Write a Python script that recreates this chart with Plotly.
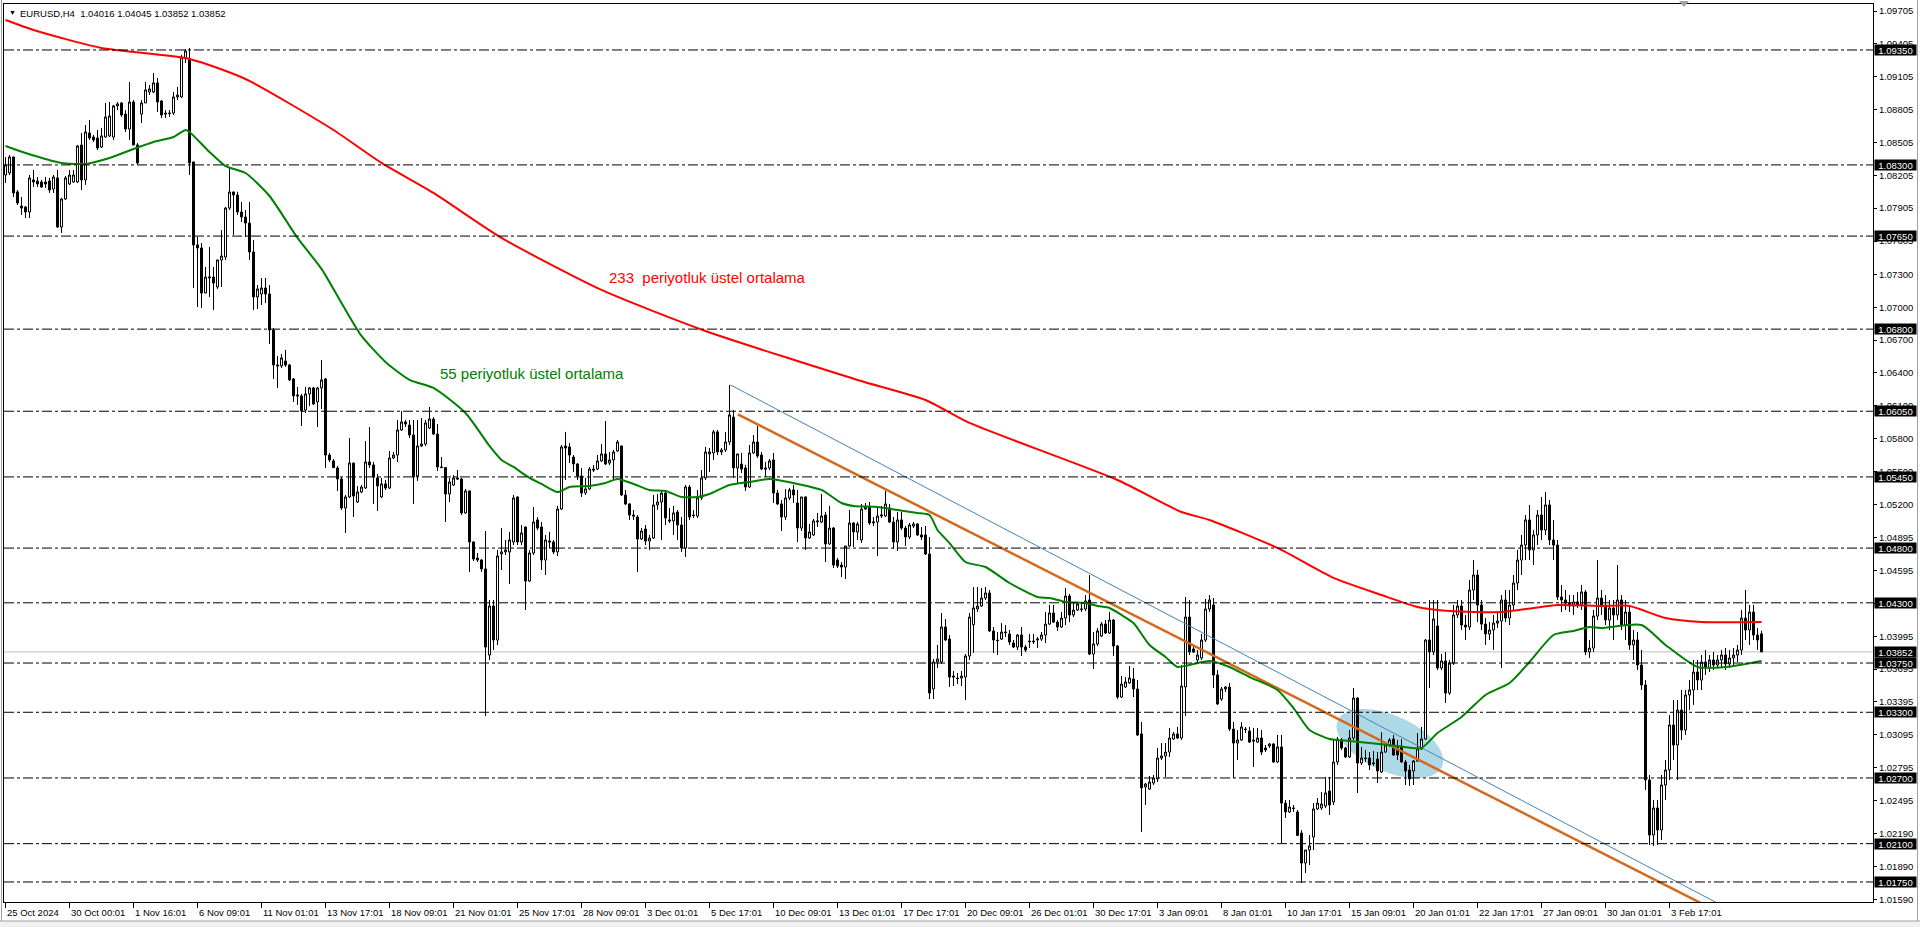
import math
import plotly.graph_objects as go

# ---------------- data (EURUSD H4) ----------------
open_ = [
1.08208,1.08227,1.08373,1.08053,1.07925,1.07916,1.07870,1.08163,1.08153,1.08144,
1.08144,1.08153,1.08080,1.08181,1.07733,1.07989,1.08126,1.08144,1.08144,1.08482,
1.08163,1.08592,1.08555,1.08546,1.08464,1.08555,1.08565,1.08555,1.08839,1.08866,
1.08765,1.08628,1.08875,1.08482,1.08765,1.08866,1.08966,1.08966,1.09049,1.08884,
1.08774,1.08774,1.08774,1.08921,1.08921,1.09277,1.09268,1.08327,1.07569,1.07541,
1.07130,1.07267,1.07276,1.07185,1.07432,1.07459,1.07906,1.08053,1.08026,1.07870,
1.07824,1.07769,1.07505,1.07094,1.07121,1.07176,1.07121,1.06792,1.06473,1.06464,
1.06509,1.06473,1.06345,1.06199,1.06190,1.06061,1.06208,1.06263,1.06135,1.06263,
1.06345,1.05650,1.05596,1.05532,1.05431,1.05166,1.05267,1.05577,1.05221,1.05312,
1.05349,1.05587,1.05559,1.05441,1.05267,1.05386,1.05349,1.05623,1.05650,1.05879,
1.05952,1.05924,1.05833,1.05459,1.05733,1.05751,1.05897,1.05979,1.05842,1.05541,
1.05535,1.05294,1.05376,1.05441,1.05431,1.05121,1.05322,1.04856,1.04709,1.04691,
1.04609,1.03823,1.04271,1.03960,1.04746,1.04765,1.04765,1.04856,1.05267,1.04856,
1.04993,1.04499,1.04755,1.05057,1.04993,1.04691,1.04865,1.04856,1.04765,1.05157,
1.05733,1.05724,1.05632,1.05568,1.05459,1.05303,1.05340,1.05522,1.05522,1.05596,
1.05660,1.05577,1.05605,1.05687,1.05733,1.05285,1.05203,1.05102,1.05084,1.04883,
1.04974,1.04865,1.04892,1.05194,1.05221,1.05303,1.05057,1.05048,1.05130,1.05011,
1.04801,1.05358,1.05102,1.05093,1.05258,1.05441,1.05660,1.05669,1.05861,1.05678,
1.05696,1.05769,1.05997,1.05532,1.05568,1.05532,1.05358,1.05669,1.05769,1.05650,
1.05532,1.05532,1.05605,1.05303,1.05203,1.05084,1.05258,1.05331,1.05212,1.04983,
1.05267,1.04892,1.04920,1.05038,1.05038,1.05102,1.04838,1.04983,1.04691,1.04645,
1.04627,1.04819,1.05029,1.04947,1.04874,1.05157,1.05175,1.05029,1.05038,1.05093,
1.05093,1.05166,1.05038,1.04856,1.05057,1.04983,1.04901,1.05001,1.05020,1.04920,
1.04920,1.04746,1.03513,1.03760,1.03760,1.04079,1.03969,1.03631,1.03613,1.03613,
1.03622,1.03814,1.04100,1.04244,1.04271,1.04344,1.04390,1.04043,1.03960,1.03969,
1.04033,1.04015,1.03933,1.03896,1.04006,1.03896,1.03951,1.03951,1.03960,1.03969,
1.04006,1.04106,1.04207,1.04124,1.04079,1.04161,1.04362,1.04189,1.04234,1.04244,
1.04244,1.04326,1.03832,1.03924,1.03997,1.04106,1.04024,1.04143,1.03906,1.03439,
1.03531,1.03568,1.03604,1.03513,1.03102,1.02618,1.02599,1.02654,1.02691,1.02882,
1.02901,1.02937,1.03056,1.03102,1.03065,1.03531,1.04170,1.03878,1.03778,1.03796,
1.03960,1.04244,1.04280,1.03641,1.03421,1.03513,1.03531,1.03147,1.03019,1.03047,
1.03147,1.03129,1.03047,1.03028,1.03065,1.02974,1.02992,1.03010,1.02846,1.02983,
1.02471,1.02389,1.02426,1.02389,1.02197,1.01923,1.02042,1.02161,1.02417,1.02426,
1.02444,1.02581,1.02481,1.02846,1.03047,1.02974,1.02892,1.03065,1.03430,1.02837,
1.02882,1.02882,1.02837,1.02873,1.02754,1.02937,1.02992,1.03056,1.02983,1.02983,
1.02846,1.02773,1.02764,1.02855,1.02965,1.03056,1.03960,1.03851,1.04088,1.03705,
1.03769,1.03476,1.03750,1.04189,1.04271,1.04097,1.04079,1.04417,1.04554,1.04280,
1.04106,1.04015,1.04052,1.04115,1.04134,1.04326,1.04161,1.04280,1.04481,1.04691,
1.04828,1.05057,1.04783,1.04920,1.05102,1.04965,1.05194,1.04874,1.04828,1.04353,
1.04326,1.04298,1.04271,1.04308,1.04280,1.04399,1.03851,1.03887,1.04179,1.04344,
1.04280,1.04143,1.04253,1.04189,1.04326,1.04097,1.04216,1.03915,1.03960,1.03732,
1.03549,1.02682,1.02179,1.02426,1.02225,1.02636,1.02773,1.03184,1.03001,1.03321,
1.03138,1.03458,1.03504,1.03668,1.03595,1.03759,1.03705,1.03778,1.03732,1.03778,
1.03823,1.03741,1.03796,1.03823,1.03869,1.04161,1.04052,1.04216,1.04006,1.04016,
]
high_ = [
1.08372,1.08391,1.08375,1.08071,1.08007,1.07925,1.08208,1.08254,1.08190,1.08163,
1.08190,1.08181,1.08208,1.08254,1.07998,1.08199,1.08254,1.08254,1.08482,1.08592,
1.08665,1.08711,1.08574,1.08619,1.08638,1.08866,1.08875,1.08848,1.08875,1.08875,
1.08802,1.09058,1.08893,1.08500,1.08893,1.09058,1.09030,1.09140,1.09094,1.08893,
1.08802,1.08802,1.08966,1.09012,1.09304,1.09359,1.09368,1.08330,1.07642,1.07587,
1.07368,1.07550,1.07368,1.07432,1.07706,1.07916,1.08272,1.08055,1.08055,1.07961,
1.07888,1.07961,1.07614,1.07203,1.07267,1.07267,1.07203,1.06811,1.06555,1.06573,
1.06610,1.06482,1.06354,1.06272,1.06208,1.06272,1.06272,1.06272,1.06272,1.06518,
1.06354,1.05669,1.05614,1.05550,1.05450,1.05285,1.05806,1.05580,1.05367,1.05376,
1.05778,1.05906,1.05587,1.05477,1.05441,1.05422,1.05687,1.05678,1.05970,1.06052,
1.05970,1.05970,1.05970,1.05970,1.05988,1.05970,1.06089,1.05997,1.05933,1.05632,
1.05541,1.05441,1.05468,1.05513,1.05441,1.05340,1.05325,1.04860,1.04755,1.04700,
1.04956,1.04326,1.04326,1.04783,1.04984,1.04874,1.04947,1.05285,1.05270,1.05011,
1.04996,1.04783,1.05175,1.05084,1.05038,1.04920,1.04947,1.04874,1.05185,1.05742,
1.05861,1.05760,1.05650,1.05577,1.05532,1.05441,1.05541,1.05559,1.05650,1.05751,
1.05961,1.05678,1.05696,1.05787,1.05735,1.05331,1.05212,1.05148,1.05102,1.04984,
1.05011,1.04920,1.05285,1.05294,1.05331,1.05331,1.05166,1.05185,1.05148,1.05084,
1.05376,1.05376,1.05148,1.05331,1.05513,1.05724,1.05714,1.05879,1.05879,1.05714,
1.05861,1.06290,1.06061,1.05660,1.05669,1.05559,1.05742,1.05833,1.05915,1.05678,
1.05587,1.05614,1.05669,1.05331,1.05239,1.05340,1.05349,1.05376,1.05331,1.05267,
1.05270,1.05020,1.05066,1.05121,1.05294,1.05130,1.05185,1.04993,1.04710,1.04673,
1.04819,1.05148,1.05038,1.05038,1.05203,1.05212,1.05221,1.05084,1.05175,1.05185,
1.05322,1.05203,1.05084,1.05130,1.05130,1.05001,1.05029,1.05038,1.05029,1.04993,
1.05001,1.04901,1.03787,1.03915,1.04207,1.04152,1.04006,1.03677,1.03659,1.03677,
1.03832,1.04207,1.04444,1.04444,1.04435,1.04444,1.04417,1.04079,1.04033,1.04115,
1.04097,1.04052,1.03960,1.04015,1.04079,1.03915,1.04015,1.04015,1.03987,1.04033,
1.04216,1.04280,1.04280,1.04143,1.04216,1.04435,1.04380,1.04298,1.04308,1.04298,
1.04371,1.04554,1.04033,1.04070,1.04124,1.04143,1.04216,1.04152,1.03915,1.03631,
1.03622,1.03723,1.03705,1.03595,1.03211,1.02654,1.02718,1.02727,1.02974,1.03019,
1.03019,1.03157,1.03120,1.03166,1.03732,1.04353,1.04326,1.03906,1.03869,1.04015,
1.04335,1.04371,1.04344,1.03686,1.03531,1.03540,1.03567,1.03211,1.03138,1.03211,
1.03166,1.03166,1.03157,1.03157,1.03138,1.03001,1.03019,1.03019,1.03093,1.03093,
1.02499,1.02499,1.02453,1.02407,1.02225,1.02042,1.02179,1.02471,1.02517,1.02572,
1.02709,1.02709,1.03047,1.03075,1.03065,1.02983,1.03138,1.03522,1.03440,1.02983,
1.02956,1.02937,1.02946,1.02937,1.03120,1.03019,1.03065,1.03093,1.03047,1.03056,
1.02864,1.02819,1.02864,1.03111,1.03166,1.03969,1.04326,1.04326,1.04326,1.03832,
1.03851,1.03778,1.04280,1.04326,1.04326,1.04189,1.04508,1.04691,1.04600,1.04326,
1.04161,1.04124,1.04189,1.04216,1.04371,1.04417,1.04417,1.04554,1.04783,1.04920,
1.05102,1.05194,1.04965,1.05148,1.05267,1.05313,1.05239,1.05057,1.04874,1.04463,
1.04417,1.04371,1.04371,1.04399,1.04463,1.04417,1.03960,1.04234,1.04691,1.04417,
1.04371,1.04326,1.04326,1.04645,1.04371,1.04326,1.04280,1.04052,1.04033,1.03869,
1.03595,1.02727,1.02499,1.02499,1.02727,1.02864,1.03275,1.03412,1.03412,1.03504,
1.03504,1.03595,1.03778,1.03778,1.03823,1.03869,1.03823,1.03851,1.03823,1.03869,
1.03887,1.03869,1.03887,1.03915,1.04234,1.04417,1.04280,1.04280,1.04070,1.04045,
]
low_ = [
1.08135,1.08208,1.08007,1.07934,1.07843,1.07815,1.07815,1.08099,1.08099,1.08090,
1.08090,1.08044,1.08044,1.07724,1.07679,1.07980,1.08117,1.08135,1.08135,1.08071,
1.08117,1.08528,1.08510,1.08437,1.08455,1.08546,1.08555,1.08528,1.08802,1.08738,
1.08601,1.08528,1.08482,1.08300,1.08683,1.08866,1.08939,1.08957,1.08784,1.08729,
1.08729,1.08738,1.08756,1.08893,1.08912,1.09231,1.08208,1.07176,1.07002,1.06993,
1.07128,1.07094,1.06975,1.07167,1.07185,1.07432,1.07888,1.07660,1.07843,1.07779,
1.07642,1.07432,1.06975,1.06984,1.07021,1.07039,1.06664,1.06345,1.06263,1.06445,
1.06455,1.06327,1.06135,1.06107,1.05915,1.06034,1.06098,1.06107,1.05906,1.06070,
1.05532,1.05587,1.05532,1.05322,1.05148,1.04938,1.05258,1.05084,1.05212,1.05303,
1.05340,1.05532,1.05203,1.05139,1.05258,1.05331,1.05340,1.05614,1.05587,1.05870,
1.05906,1.05806,1.05203,1.05413,1.05724,1.05733,1.05888,1.05833,1.05504,1.05532,
1.05038,1.05221,1.05367,1.05422,1.05102,1.05112,1.04582,1.04682,1.04673,1.04582,
1.03266,1.03778,1.03869,1.03915,1.04600,1.04737,1.04472,1.04828,1.04828,1.04828,
1.04234,1.04490,1.04737,1.04965,1.04600,1.04554,1.04801,1.04746,1.04728,1.05148,
1.05422,1.05577,1.05495,1.05422,1.05267,1.05285,1.05331,1.05495,1.05513,1.05587,
1.05559,1.05559,1.05422,1.05678,1.05276,1.05194,1.05057,1.05057,1.04582,1.04874,
1.04828,1.04783,1.04883,1.05148,1.04874,1.05011,1.05029,1.04920,1.04874,1.04765,
1.04719,1.05057,1.05075,1.05075,1.05239,1.05422,1.05495,1.05605,1.05650,1.05650,
1.05678,1.05742,1.05441,1.05395,1.05486,1.05322,1.05349,1.05660,1.05623,1.05513,
1.05450,1.05513,1.05212,1.05194,1.04956,1.05057,1.05239,1.05212,1.04856,1.04956,
1.04783,1.04883,1.04911,1.04993,1.05029,1.04673,1.04828,1.04618,1.04618,1.04536,
1.04518,1.04810,1.04810,1.04874,1.04846,1.05148,1.05011,1.05001,1.04728,1.05075,
1.05084,1.05029,1.04792,1.04773,1.04965,1.04819,1.04883,1.04983,1.04910,1.04874,
1.04737,1.03421,1.03421,1.03705,1.03741,1.03951,1.03531,1.03540,1.03559,1.03540,
1.03412,1.03778,1.03842,1.04216,1.04262,1.04326,1.04033,1.03842,1.03823,1.03960,
1.03987,1.03915,1.03887,1.03869,1.03814,1.03851,1.03887,1.03924,1.03887,1.03951,
1.03933,1.04097,1.04115,1.04043,1.04070,1.04097,1.04124,1.04170,1.04225,1.04216,
1.04225,1.03823,1.03695,1.03906,1.03987,1.04015,1.04015,1.03814,1.03421,1.03430,
1.03522,1.03559,1.03439,1.03083,1.02207,1.02453,1.02590,1.02636,1.02663,1.02864,
1.02709,1.02892,1.03047,1.03056,1.03047,1.03266,1.03823,1.03842,1.03759,1.03778,
1.03942,1.04216,1.03522,1.03367,1.03403,1.03485,1.03129,1.02700,1.02864,1.03038,
1.03111,1.03019,1.02800,1.03019,1.02910,1.02937,1.02974,1.02837,1.02837,1.02106,
1.02334,1.02380,1.02389,1.02175,1.01741,1.01832,1.01905,1.02042,1.02407,1.02407,
1.02426,1.02362,1.02453,1.02819,1.02956,1.02882,1.02882,1.03047,1.02563,1.02819,
1.02846,1.02773,1.02810,1.02654,1.02745,1.02928,1.02983,1.02901,1.02864,1.02837,
1.02636,1.02627,1.02636,1.02846,1.02956,1.03047,1.03522,1.03823,1.03686,1.03686,
1.03385,1.03458,1.03732,1.04161,1.04052,1.03960,1.04052,1.04326,1.04124,1.04052,
1.03915,1.03960,1.03869,1.04070,1.03705,1.04124,1.04097,1.04234,1.04417,1.04554,
1.04691,1.04691,1.04645,1.04828,1.04874,1.04920,1.04828,1.04691,1.04326,1.04216,
1.04234,1.04216,1.04189,1.04253,1.04234,1.03823,1.03796,1.03851,1.04143,1.04189,
1.04097,1.04052,1.03960,1.04143,1.04052,1.03960,1.03869,1.03778,1.03686,1.03504,
1.02590,1.02088,1.02079,1.02088,1.02133,1.02499,1.02682,1.02864,1.02682,1.03047,
1.03093,1.03321,1.03367,1.03504,1.03504,1.03641,1.03668,1.03686,1.03705,1.03705,
1.03686,1.03705,1.03732,1.03759,1.03823,1.03960,1.03915,1.03960,1.03869,1.03852,
]
close_ = [
1.08300,1.08373,1.08044,1.07952,1.07906,1.07870,1.08181,1.08144,1.08126,1.08099,
1.08126,1.08071,1.08190,1.07733,1.07989,1.08181,1.08208,1.08208,1.08473,1.08163,
1.08601,1.08546,1.08528,1.08455,1.08565,1.08738,1.08747,1.08839,1.08857,1.08756,
1.08628,1.08875,1.08482,1.08318,1.08866,1.08985,1.08994,1.09049,1.08875,1.08756,
1.08765,1.08770,1.08921,1.08939,1.09286,1.09341,1.08318,1.07569,1.07541,1.07130,
1.07276,1.07276,1.07221,1.07432,1.07468,1.07906,1.08053,1.08026,1.07870,1.07824,
1.07769,1.07505,1.07094,1.07167,1.07176,1.07121,1.06792,1.06473,1.06464,1.06537,
1.06473,1.06336,1.06190,1.06190,1.06052,1.06208,1.06263,1.06116,1.06263,1.06336,
1.05650,1.05605,1.05535,1.05431,1.05166,1.05267,1.05577,1.05276,1.05312,1.05358,
1.05587,1.05559,1.05450,1.05367,1.05386,1.05349,1.05623,1.05650,1.05879,1.05952,
1.05933,1.05833,1.05450,1.05733,1.05751,1.05943,1.05979,1.05842,1.05541,1.05535,
1.05294,1.05404,1.05441,1.05431,1.05121,1.05322,1.04856,1.04700,1.04691,1.04609,
1.03896,1.04271,1.03960,1.04728,1.04765,1.04783,1.04874,1.05258,1.04856,1.04938,
1.04499,1.04755,1.05038,1.04983,1.04691,1.04874,1.04856,1.04765,1.05157,1.05724,
1.05714,1.05650,1.05568,1.05459,1.05303,1.05340,1.05522,1.05513,1.05596,1.05660,
1.05568,1.05605,1.05678,1.05769,1.05285,1.05203,1.05102,1.05093,1.04883,1.04956,
1.04865,1.04892,1.05194,1.05221,1.05303,1.05075,1.05048,1.05121,1.05011,1.04801,
1.05358,1.05084,1.05098,1.05258,1.05441,1.05678,1.05678,1.05861,1.05678,1.05696,
1.05769,1.06016,1.05532,1.05660,1.05522,1.05358,1.05669,1.05769,1.05641,1.05522,
1.05522,1.05596,1.05303,1.05203,1.05084,1.05258,1.05331,1.05285,1.04983,1.05267,
1.04892,1.04947,1.05048,1.05048,1.05093,1.04838,1.04983,1.04645,1.04636,1.04627,
1.04819,1.05029,1.04947,1.05020,1.05157,1.05175,1.05029,1.05038,1.05093,1.05102,
1.05203,1.05038,1.04856,1.05057,1.04983,1.04901,1.05011,1.05020,1.04920,1.04901,
1.04746,1.03476,1.03760,1.03787,1.04079,1.03960,1.03622,1.03622,1.03608,1.03631,
1.03814,1.04170,1.04253,1.04271,1.04344,1.04390,1.04043,1.03960,1.03955,1.04033,
1.04028,1.03942,1.03896,1.04006,1.03896,1.03869,1.03945,1.03945,1.03969,1.04006,
1.04106,1.04207,1.04124,1.04079,1.04161,1.04362,1.04189,1.04234,1.04289,1.04240,
1.04317,1.03832,1.03924,1.04043,1.04106,1.04024,1.04143,1.03906,1.03439,1.03558,
1.03577,1.03613,1.03513,1.03093,1.02609,1.02645,1.02663,1.02700,1.02882,1.02901,
1.02937,1.03065,1.03102,1.03065,1.03540,1.04170,1.03851,1.03851,1.03823,1.03960,
1.04244,1.04326,1.03641,1.03376,1.03513,1.03531,1.03147,1.03019,1.03047,1.03166,
1.03143,1.03028,1.03038,1.03065,1.02937,1.02956,1.03010,1.02846,1.02983,1.02471,
1.02389,1.02435,1.02421,1.02175,1.01923,1.02042,1.02079,1.02417,1.02471,1.02462,
1.02563,1.02453,1.02846,1.03056,1.02974,1.02892,1.03065,1.03430,1.02837,1.02882,
1.02878,1.02819,1.02833,1.02764,1.02937,1.03001,1.03047,1.02910,1.02910,1.02846,
1.02764,1.02691,1.02855,1.02965,1.03056,1.03960,1.03851,1.04152,1.03705,1.03769,
1.03476,1.03750,1.04189,1.04271,1.04097,1.04079,1.04417,1.04554,1.04280,1.04106,
1.04015,1.04052,1.04115,1.04134,1.04326,1.04161,1.04280,1.04481,1.04691,1.04828,
1.05057,1.04783,1.04920,1.05102,1.04965,1.05194,1.04874,1.04828,1.04353,1.04326,
1.04298,1.04271,1.04308,1.04280,1.04399,1.03851,1.03887,1.04179,1.04344,1.04280,
1.04143,1.04253,1.04189,1.04326,1.04097,1.04216,1.03915,1.03960,1.03732,1.03549,
1.02682,1.02179,1.02426,1.02225,1.02636,1.02773,1.03184,1.03001,1.03321,1.03138,
1.03458,1.03504,1.03668,1.03595,1.03759,1.03705,1.03778,1.03732,1.03778,1.03823,
1.03741,1.03796,1.03823,1.03869,1.04161,1.04052,1.04216,1.04006,1.03960,1.03852,
]

# EMA readings (bar index, value)
ema233_bar = [0,7,24,46,60,82,94,107,124,149,175,213,230,241,278,294,301,318,332,344,353,361,374,382,388,399,406,415,424,439]
ema233_val = [1.09624,1.09533,1.09368,1.09268,1.09085,1.08619,1.08318,1.08044,1.07633,1.07158,1.06783,
              1.06336,1.06153,1.05943,1.05422,1.05130,1.05057,1.04801,1.04527,1.04371,1.04262,1.04225,
              1.04216,1.04253,1.04280,1.04271,1.04271,1.04161,1.04125,1.04125]
ema55_bar = [0,5,14,20,26,32,37,42,45,46,51,55,60,66,73,79,84,89,95,101,107,115,121,124,127,131,134,138,141,
             146,150,153,157,161,165,169,173,176,181,186,191,198,204,209,212,218,223,228,231,233,236,240,245,
             251,258,261,265,270,273,276,279,282,286,290,293,296,301,306,311,318,322,326,331,336,341,348,354,
             358,364,370,376,381,387,392,396,399,409,415,423,430,439]
ema55_val = [1.08473,1.08409,1.08318,1.08309,1.08363,1.08446,1.08510,1.08555,1.08619,1.08601,1.08418,1.08290,
             1.08226,1.08016,1.07633,1.07350,1.07039,1.06738,1.06500,1.06336,1.06263,1.06034,1.05733,1.05605,
             1.05541,1.05441,1.05386,1.05312,1.05358,1.05367,1.05395,1.05431,1.05386,1.05331,1.05322,1.05267,
             1.05267,1.05294,1.05376,1.05404,1.05431,1.05386,1.05331,1.05212,1.05185,1.05175,1.05148,1.05121,
             1.05102,1.04965,1.04846,1.04673,1.04627,1.04481,1.04353,1.04344,1.04308,1.04298,1.04271,1.04253,
             1.04189,1.04115,1.03915,1.03805,1.03714,1.03732,1.03769,1.03714,1.03622,1.03504,1.03339,1.03138,
             1.03056,1.03038,1.03019,1.02992,1.02974,1.03111,1.03257,1.03458,1.03568,1.03759,1.04006,1.04043,
             1.04079,1.04070,1.04097,1.03915,1.03714,1.03714,1.03769]

# trend lines: two anchor points each (bar, price)
orange_bar = [183.1, 361.25]
orange_val = [1.06022, 1.02718]
blue_bar = [181.25, 361.25]
blue_val = [1.06290, 1.02837]

levels = [1.0935, 1.0830, 1.0765, 1.0680, 1.0605, 1.0545, 1.0480, 1.0430, 1.0375, 1.0330, 1.0270, 1.0210, 1.0175]
bid = 1.03852

ytick_vals = [1.09705, 1.09405, 1.09105, 1.08805, 1.08505, 1.08205, 1.07905, 1.07605, 1.07300, 1.07000,
              1.06700, 1.06400, 1.06100, 1.05800, 1.05500, 1.05200, 1.04895, 1.04595, 1.04295, 1.03995,
              1.03695, 1.03395, 1.03095, 1.02795, 1.02495, 1.02190, 1.01890, 1.01590]
xtick_labels = ['25 Oct 2024', '30 Oct 00:01', '1 Nov 16:01', '6 Nov 09:01', '11 Nov 01:01', '13 Nov 17:01',
                '18 Nov 09:01', '21 Nov 01:01', '25 Nov 17:01', '28 Nov 09:01', '3 Dec 01:01', '5 Dec 17:01',
                '10 Dec 09:01', '13 Dec 01:01', '17 Dec 17:01', '20 Dec 09:01', '26 Dec 01:01', '30 Dec 17:01',
                '3 Jan 09:01', '8 Jan 01:01', '10 Jan 17:01', '15 Jan 09:01', '20 Jan 01:01', '22 Jan 17:01',
                '27 Jan 09:01', '30 Jan 01:01', '3 Feb 17:01']
xtick_bars = [0, 16, 32, 48, 64, 80, 96, 112, 128, 144, 160, 176, 192, 208, 224, 240, 256, 272, 288, 304,
              320, 336, 352, 368, 384, 400, 416]

header = 'EURUSD,H4\u00a0\u00a01.04016 1.04045 1.03852 1.03852'
label233 = '233\u00a0\u00a0periyotluk üstel ortalama'
label55 = '55 periyotluk üstel ortalama'

# ---------------- layout geometry ----------------
W, H = 1920, 927
ML, MR, MT, MB = 4, 47, 4, 25
PW = W - ML - MR
PH = H - MT - MB
X_RANGE = [-0.375, 466.875]
Y_RANGE = [1.01567, 1.09770]
FONT = 'Liberation Sans, Arial, sans-serif'
AX_FONT = 9.5


def paper_x(px):
    return (px - ML) / PW


def paper_y(py):
    return (H - MB - py) / PH


bars = list(range(len(close_)))

fig = go.Figure()

# ellipse (drawn below candles), geometry in screen pixels around a data centre
ell_c_bar, ell_c_val = 346.1, 1.03015
ell_a, ell_b, ell_ang = 57.0, 28.0, math.radians(24.0)
px_per_bar = PW / (X_RANGE[1] - X_RANGE[0])
px_per_val = PH / (Y_RANGE[1] - Y_RANGE[0])
pts = []
for i in range(73):
    t = 2 * math.pi * i / 72
    dx = ell_a * math.cos(ell_ang) * math.cos(t) - ell_b * math.sin(ell_ang) * math.sin(t)
    dy = ell_a * math.sin(ell_ang) * math.cos(t) + ell_b * math.cos(ell_ang) * math.sin(t)
    pts.append((ell_c_bar + dx / px_per_bar, ell_c_val - dy / px_per_val))
path = 'M ' + ' L '.join(f'{x:.4f},{y:.6f}' for x, y in pts) + ' Z'
fig.add_shape(type='path', path=path, xref='x', yref='y', fillcolor='#ADD8E6',
              line=dict(width=0), layer='below')

# bid line
fig.add_shape(type='line', xref='paper', x0=0, x1=1, yref='y', y0=bid, y1=bid,
              line=dict(color='#C0C0C0', width=1), layer='below')

fig.add_trace(go.Candlestick(
    x=bars, open=open_, high=high_, low=low_, close=close_,
    increasing=dict(line=dict(color='black', width=1), fillcolor='white'),
    decreasing=dict(line=dict(color='black', width=1), fillcolor='black'),
    whiskerwidth=0, showlegend=False, hoverinfo='skip'))


def ray(bx, vy, x_end):
    slope = (vy[1] - vy[0]) / (bx[1] - bx[0])
    return [bx[0], x_end], [vy[0], vy[0] + slope * (x_end - bx[0])]


bx, by = ray(blue_bar, blue_val, 470)
fig.add_trace(go.Scatter(x=bx, y=by, mode='lines', line=dict(color='#4682B4', width=1),
                         showlegend=False, hoverinfo='skip'))
ox, oy = ray(orange_bar, orange_val, 470)
fig.add_trace(go.Scatter(x=ox, y=oy, mode='lines', line=dict(color='#D2691E', width=2.5),
                         showlegend=False, hoverinfo='skip'))

fig.add_trace(go.Scatter(x=ema233_bar, y=ema233_val, mode='lines',
                         line=dict(color='#FF0000', width=2, shape='spline', smoothing=0.6),
                         showlegend=False, hoverinfo='skip'))
fig.add_trace(go.Scatter(x=ema55_bar, y=ema55_val, mode='lines',
                         line=dict(color='#008000', width=2, shape='spline', smoothing=0.6),
                         showlegend=False, hoverinfo='skip'))

# horizontal levels
for lv in levels:
    fig.add_shape(type='line', xref='paper', x0=0, x1=1, yref='y', y0=lv, y1=lv,
                  line=dict(color='black', width=1, dash='10px,3px,3px,3px'))

# level / bid boxes on price axis
for lv in levels + [bid]:
    fig.add_annotation(xref='paper', x=1, xanchor='left', xshift=1, yref='y', y=lv,
                       text=f'{lv:.5f}', showarrow=False, bgcolor='black', borderpad=0,
                       width=41, height=10, font=dict(family=FONT, size=AX_FONT, color='white'))

# time-axis labels (left aligned at tick)
for b, lab in zip(xtick_bars, xtick_labels):
    fig.add_annotation(xref='x', x=b, xanchor='left', xshift=-1, yref='paper', y=0, yanchor='top',
                       yshift=-3, text=lab, showarrow=False, font=dict(family=FONT, size=AX_FONT, color='black'))

# header
fig.add_annotation(xref='paper', x=0, xanchor='left', xshift=3, yref='paper', y=1, yanchor='top', yshift=-3,
                   text='\u25bc', showarrow=False, font=dict(family=FONT, size=7, color='black'))
fig.add_annotation(xref='paper', x=0, xanchor='left', xshift=14, yref='paper', y=1, yanchor='top', yshift=-2,
                   text=header, showarrow=False, font=dict(family=FONT, size=9.5, color='black'))

# indicator labels
fig.add_annotation(xref='x', x=150.4, xanchor='left', yref='y', y=1.07276, yanchor='middle',
                   text=label233, showarrow=False, font=dict(family=FONT, size=15, color='#FF0000'))
fig.add_annotation(xref='x', x=108.0, xanchor='left', yref='y', y=1.06399, yanchor='middle',
                   text=label55, showarrow=False, font=dict(family=FONT, size=15, color='#008000'))

# chart-shift marker
fig.add_shape(type='path', xref='x', yref='paper', xsizemode='pixel', ysizemode='pixel',
              xanchor=419.6, yanchor=1, path='M -5,3 L 5,3 L 0,-3 Z',
              fillcolor='#A0A0A0', line=dict(width=0))

# window frame (grey edges of the terminal window)
fig.add_shape(type='rect', xref='paper', yref='paper', x0=paper_x(0), x1=paper_x(W), y0=paper_y(H), y1=paper_y(921),
              fillcolor='#F0F0F0', line=dict(width=0))
fig.add_shape(type='line', xref='paper', yref='paper', x0=paper_x(0), x1=paper_x(W), y0=paper_y(921), y1=paper_y(921),
              line=dict(color='#A0A0A0', width=1))
fig.add_shape(type='line', xref='paper', yref='paper', x0=paper_x(1.5), x1=paper_x(1.5), y0=paper_y(921), y1=paper_y(0),
              line=dict(color='#A0A0A0', width=1))
fig.add_shape(type='line', xref='paper', yref='paper', x0=paper_x(1917.5), x1=paper_x(1917.5), y0=paper_y(921), y1=paper_y(0),
              line=dict(color='#A0A0A0', width=1))

fig.update_layout(
    width=W, height=H, margin=dict(l=ML, r=MR, t=MT, b=MB, pad=0),
    paper_bgcolor='white', plot_bgcolor='white', showlegend=False,
    boxgap=0, boxgroupgap=0.5,
    xaxis=dict(range=X_RANGE, showgrid=False, zeroline=False, rangeslider=dict(visible=False),
               tickmode='array', tickvals=xtick_bars, ticktext=['' for _ in xtick_bars],
               ticks='outside', ticklen=5, tickcolor='black', showline=True, linecolor='black',
               linewidth=1, mirror=True, fixedrange=True),
    yaxis=dict(range=Y_RANGE, side='right', showgrid=False, zeroline=False,
               tickmode='array', tickvals=ytick_vals, ticktext=[f'{v:.5f}' for v in ytick_vals],
               ticks='outside', ticklen=3, tickcolor='black',
               tickfont=dict(family=FONT, size=AX_FONT, color='black'),
               showline=True, linecolor='black', linewidth=1, mirror=True, fixedrange=True),
)

fig.write_html('out.html', include_plotlyjs=True, config={'displayModeBar': False},
               post_script="document.body.style.margin='0';document.body.style.overflow='hidden';")
